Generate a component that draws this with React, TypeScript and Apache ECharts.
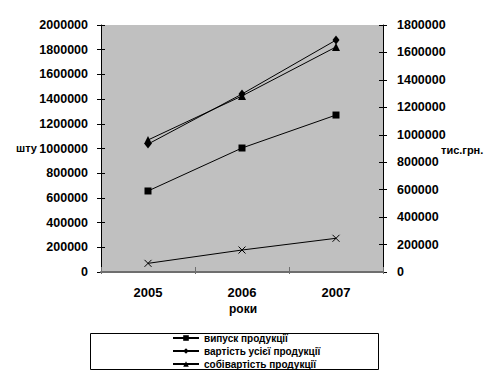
import React, { useEffect, useRef } from "react";
import * as echarts from "echarts";

const years = ["2005", "2006", "2007"];
const output = [656000, 1004000, 1271000];
const totalValue = [932000, 1297000, 1690000];
const costValue = [962000, 1283000, 1640000];
const fourth = [70000, 178000, 273000];
const legendNames = ["випуск продукції", "вартість усієї продукції", "собівартість продукції"];
const fourthName = "прибуток";

const FONT = "'Liberation Sans', Arial, sans-serif";

export default function App() {
  const ref = useRef<HTMLDivElement>(null);
  useEffect(() => {
    document.body.style.margin = "0";
    const chart = echarts.init(ref.current!, null, { renderer: "svg" });
    const labelStyle = { color: "#000", fontFamily: FONT, fontWeight: "bold" as const, fontSize: 12.5 };
    const plain = (v: number) => String(v);
    const yBase = (pos: "left" | "right", max: number) => ({
      type: "value" as const,
      position: pos,
      min: 0,
      max,
      interval: 200000,
      splitLine: { show: false },
    });
    const option: any = {
      animation: false,
      backgroundColor: "#fff",
      grid: {
        left: 101,
        right: 117,
        top: 25,
        bottom: 108,
        show: true,
        backgroundColor: "#c0c0c0",
        borderWidth: 0,
      },
      xAxis: [
        {
          type: "category",
          data: years,
          position: "bottom",
          boundaryGap: true,
          axisLine: { show: true, lineStyle: { color: "#6e6e6e", width: 2 } },
          axisTick: { show: true, inside: true, length: 5, lineStyle: { color: "#6e6e6e", width: 1 } },
          axisLabel: { ...labelStyle, fontSize: 13, margin: 14 },
          splitLine: { show: false },
          z: 5,
        },
        {
          type: "category",
          data: years,
          position: "bottom",
          boundaryGap: true,
          axisLine: { show: false },
          axisTick: { show: true, inside: false, length: 2, lineStyle: { color: "#6e6e6e", width: 1 } },
          axisLabel: { show: false },
          splitLine: { show: false },
        },
      ],
      yAxis: [
        {
          ...yBase("left", 2000000),
          axisLine: { show: true, lineStyle: { color: "#000", width: 1 } },
          axisTick: { show: true, inside: false, length: 4, lineStyle: { color: "#000" } },
          axisLabel: { ...labelStyle, margin: 13, formatter: plain },
        },
        {
          ...yBase("left", 2000000),
          axisLine: { show: false },
          axisTick: { show: true, inside: true, length: 4, lineStyle: { color: "#000" } },
          axisLabel: { show: false },
        },
        {
          ...yBase("right", 1800000),
          axisLine: { show: true, lineStyle: { color: "#000", width: 1 } },
          axisTick: { show: true, inside: false, length: 4, lineStyle: { color: "#000" } },
          axisLabel: { ...labelStyle, margin: 14, formatter: plain },
        },
        {
          ...yBase("right", 1800000),
          axisLine: { show: false },
          axisTick: { show: true, inside: true, length: 4, lineStyle: { color: "#000" } },
          axisLabel: { show: false },
        },
      ],
      legend: {
        data: legendNames,
        orient: "vertical",
        left: 172,
        top: 332,
        itemWidth: 26,
        itemHeight: 7,
        itemGap: 1,
        padding: 0,
        textStyle: { color: "#000", fontFamily: FONT, fontWeight: "bold", fontSize: 10, lineHeight: 12 },
      },
      series: [
        {
          name: legendNames[0],
          type: "line",
          data: output,
          yAxisIndex: 0,
          symbol: "rect",
          symbolSize: 7,
          lineStyle: { color: "#000", width: 1 },
          itemStyle: { color: "#000" },
        },
        {
          name: legendNames[1],
          type: "line",
          data: totalValue,
          yAxisIndex: 2,
          symbol: "diamond",
          symbolSize: [7, 9],
          lineStyle: { color: "#000", width: 1 },
          itemStyle: { color: "#000" },
        },
        {
          name: legendNames[2],
          type: "line",
          data: costValue,
          yAxisIndex: 2,
          symbol: "triangle",
          symbolSize: 8,
          lineStyle: { color: "#000", width: 1 },
          itemStyle: { color: "#000" },
        },
        {
          name: fourthName,
          type: "line",
          data: fourth,
          yAxisIndex: 0,
          symbol: "path://M0,0L10,10M10,0L0,10",
          symbolSize: 7,
          lineStyle: { color: "#000", width: 1 },
          itemStyle: { color: "none", borderColor: "#000", borderWidth: 1 },
        },
      ],
      graphic: [
        {
          type: "text",
          left: 16,
          top: 142,
          style: { text: "шту", fill: "#000", font: `bold 11px ${FONT}` },
        },
        {
          type: "text",
          left: 441,
          top: 144,
          style: { text: "тис.грн.", fill: "#000", font: `bold 11px ${FONT}` },
        },
        {
          type: "text",
          left: 229,
          top: 303,
          style: { text: "роки", fill: "#000", font: `bold 12px ${FONT}` },
        },
        {
          type: "rect",
          z: 100,
          shape: { x: 90.5, y: 333.5, width: 288, height: 36 },
          style: { fill: "none", stroke: "#000", lineWidth: 1 },
        },
      ],
    };
    chart.setOption(option);
    return () => chart.dispose();
  }, []);
  return <div ref={ref} style={{ width: 500, height: 380 }} />;
}
